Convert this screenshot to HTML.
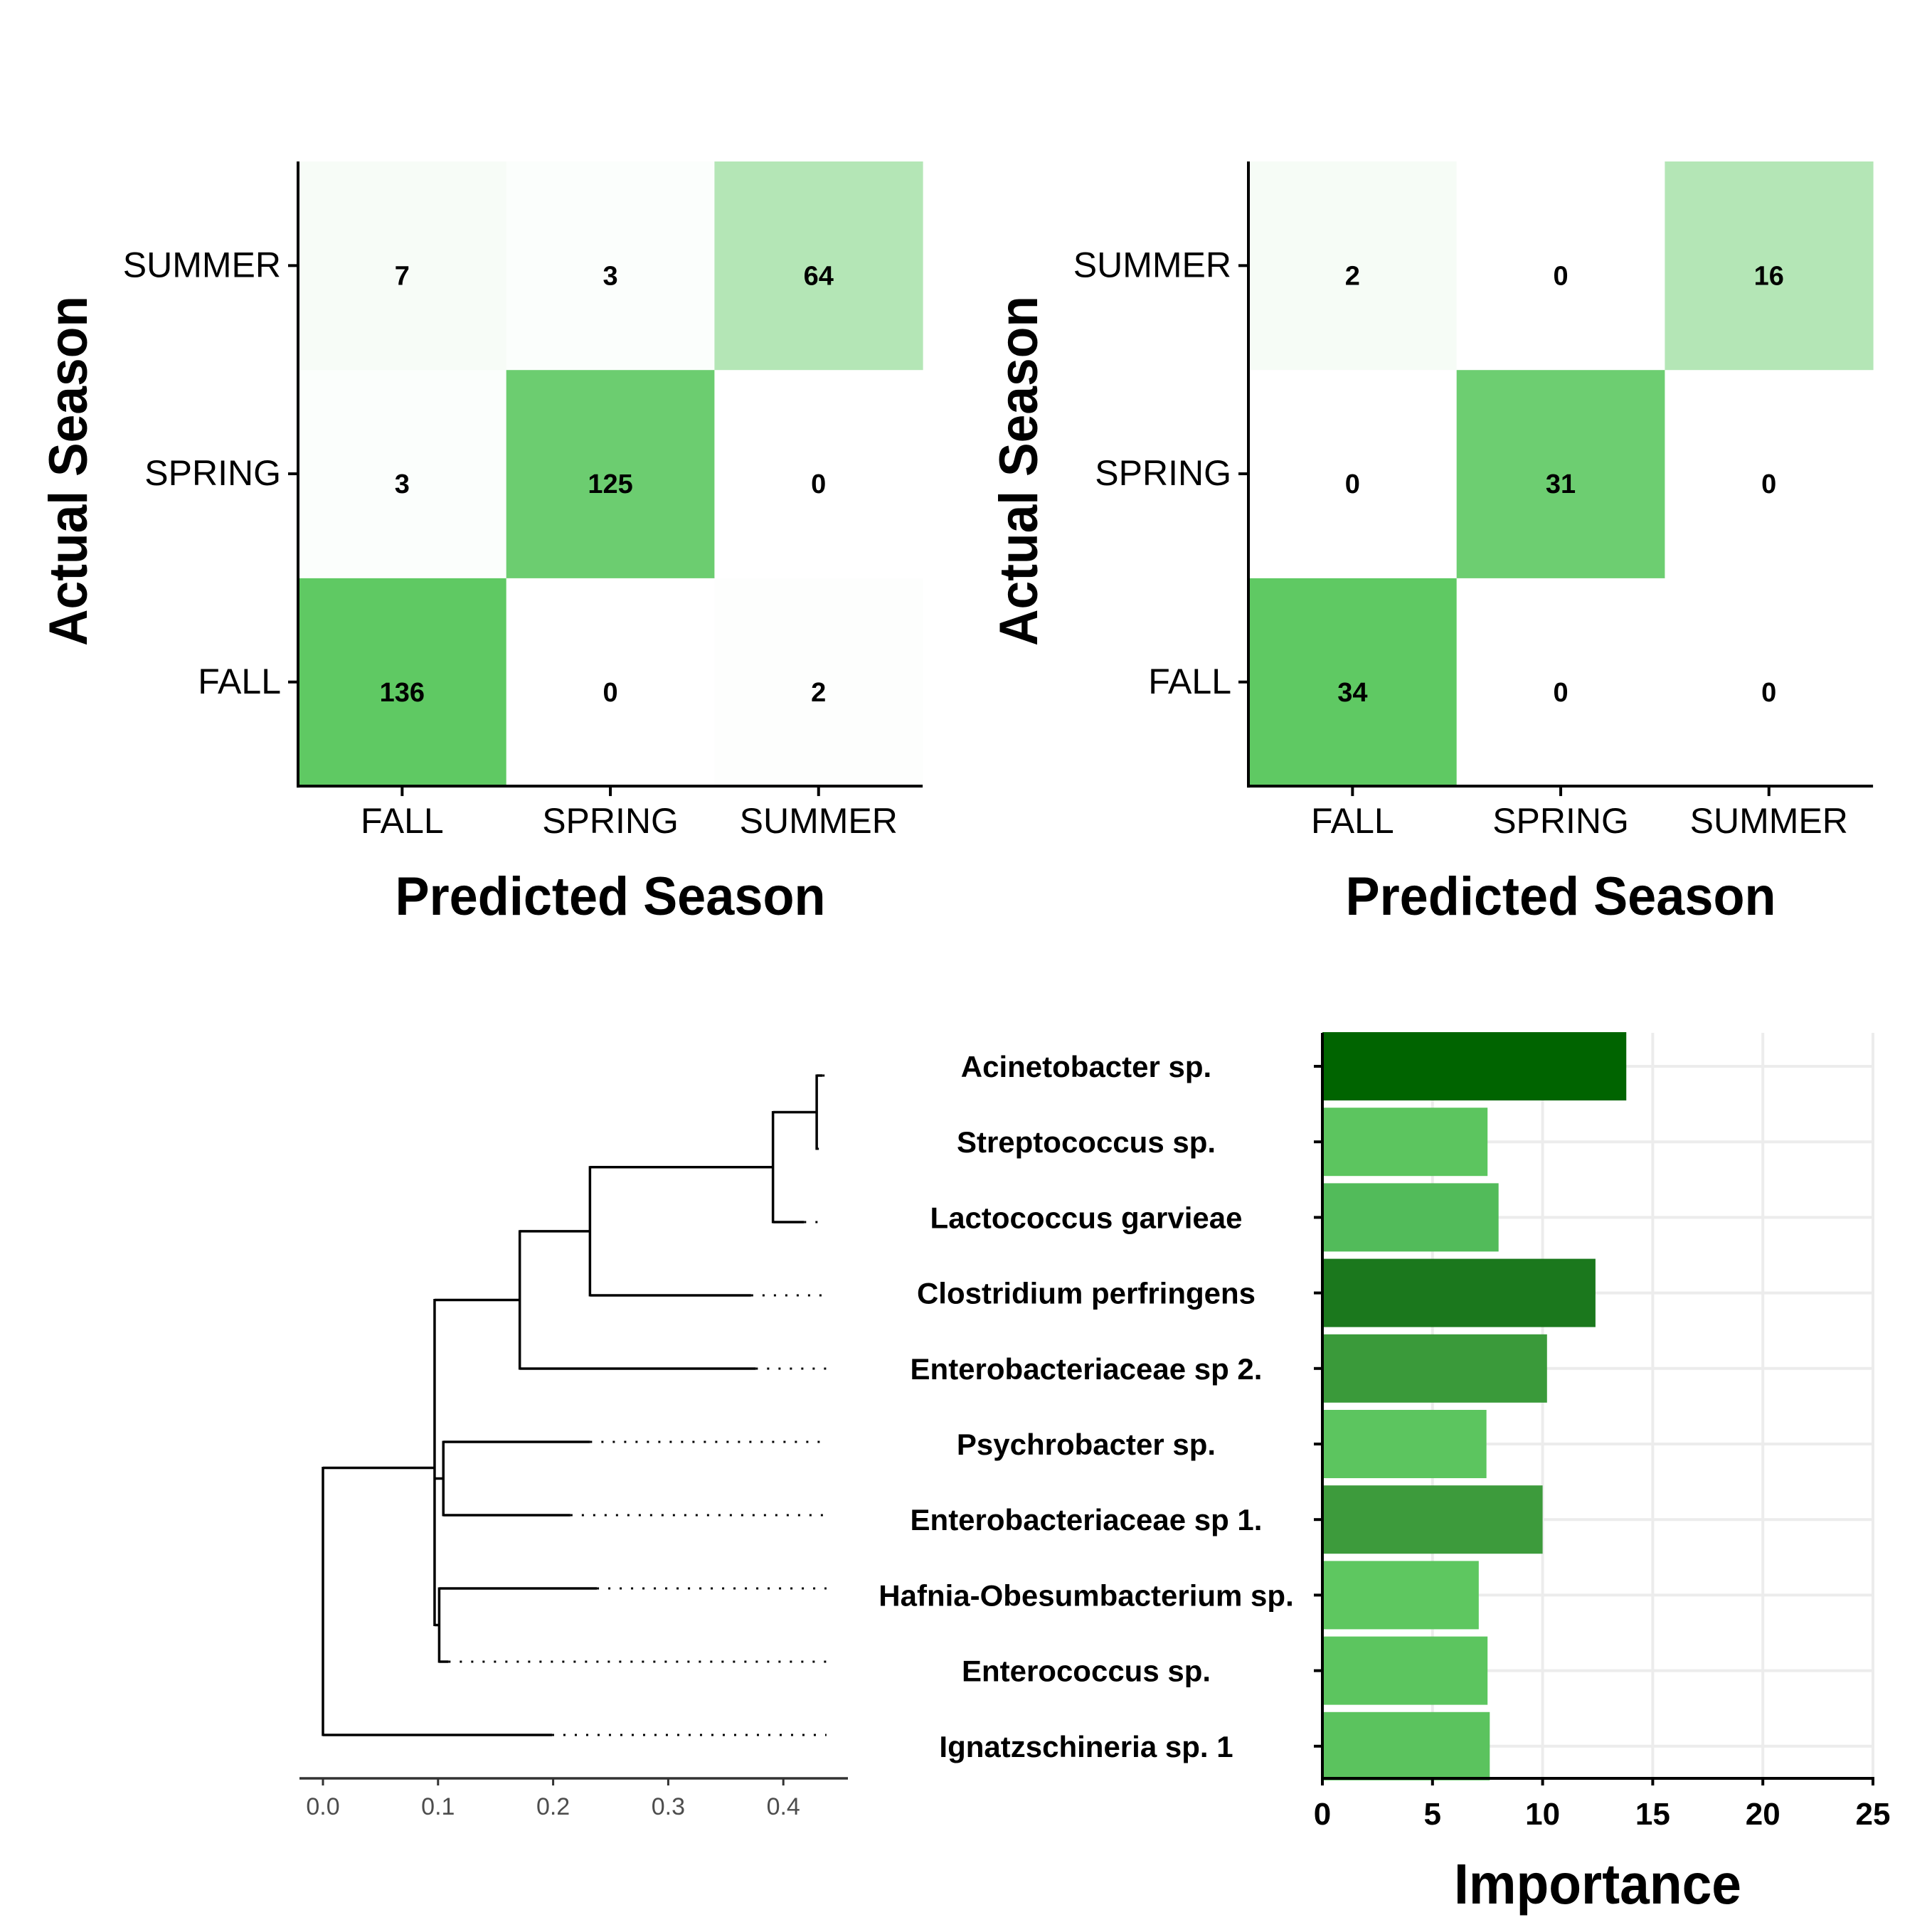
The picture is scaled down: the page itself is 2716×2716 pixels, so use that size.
<!DOCTYPE html>
<html><head><meta charset="utf-8"><style>
html,body{margin:0;padding:0;background:#fff}
svg{display:block;font-family:"Liberation Sans",sans-serif}
</style></head><body>
<svg id="fig" width="2716" height="2716" viewBox="0 0 2716 2716" xmlns="http://www.w3.org/2000/svg"></svg>
<script>
const seasons = ["FALL","SPRING","SUMMER"];
// rows: actual FALL, SPRING, SUMMER ; cols: predicted FALL, SPRING, SUMMER
const cmLeft = [[136,0,2],[3,125,0],[7,3,64]];
const cmRight = [[34,0,0],[0,31,0],[2,0,16]];

const species = ["Acinetobacter sp.","Streptococcus sp.","Lactococcus garvieae","Clostridium perfringens","Enterobacteriaceae sp 2.","Psychrobacter sp.","Enterobacteriaceae sp 1.","Hafnia-Obesumbacterium sp.","Enterococcus sp.","Ignatzschineria sp. 1"];
const importance = [13.8,7.5,8.0,12.4,10.2,7.45,10.0,7.1,7.5,7.6];
const barColors = ["#006400","#5cc55f","#52bb5a","#1b781d","#3a9a3a","#5cc55f","#3d9b3c","#5ec760","#5cc55f","#5bc35e"];
const impTicks = [0,5,10,15,20,25];

// dendrogram: leaf tip heights (same order as species) and internal nodes [height, ...children]
const leafHeights = [0.434,0.429,0.418,0.372,0.376,0.232,0.215,0.238,0.109,0.199];
const treeNodes = {
  G:[0.429,0,1], F:[0.391,"G",2], E:[0.232,"F",3], B:[0.171,"E",4],
  C:[0.1046,5,6], D:[0.101,7,8], A:[0.097,"B","C","D"], R:[0.0,"A",9]
};
const dendTicks = [0.0,0.1,0.2,0.3,0.4];

const NS="http://www.w3.org/2000/svg";
const svg=document.getElementById('fig');
function el(tag,attrs,parent,text){const e=document.createElementNS(NS,tag);for(const k in attrs)e.setAttribute(k,attrs[k]);if(text!==undefined)e.textContent=text;(parent||svg).appendChild(e);return e;}

function cmColor(t){const r=Math.round(255-t*(255-95)),g=Math.round(255-t*(255-201)),b=Math.round(255-t*(255-99));return `rgb(${r},${g},${b})`;}

function drawCM(data,x0,name){
  const g=el('g',{});
  
  
  const y0=227,cell=292.7,n=3;
  const mx=Math.max(...data.flat());
  for(let r=0;r<n;r++)for(let c=0;c<n;c++){
    const v=data[r][c];
    const x=x0+c*cell,y=y0+(n-1-r)*cell;
    const rc=el('rect',{x:x,y:y,width:cell+0.5,height:cell+0.5,fill:cmColor(v/mx)},g);
    
    
    const t=el('text',{x:x+cell/2,y:y+cell/2+27,'text-anchor':'middle','font-size':38,'font-weight':'bold',fill:'#000'},g,String(v));
    
    
  }
  const yb=y0+n*cell;
  el('line',{x1:x0,y1:y0,x2:x0,y2:yb+2,stroke:'#000','stroke-width':4},g);
  el('line',{x1:x0-2,y1:yb,x2:x0+n*cell,y2:yb,stroke:'#000','stroke-width':4},g);
  for(let i=0;i<n;i++){
    const yc=y0+(n-1-i)*cell+cell/2;
    el('line',{x1:x0-14,y1:yc,x2:x0,y2:yc,stroke:'#000','stroke-width':4},g);
    const yl=el('text',{x:x0-24,y:yc+16,'text-anchor':'end','font-size':50,fill:'#000'},g,seasons[i]);
    
    
    const xc=x0+i*cell+cell/2;
    el('line',{x1:xc,y1:yb,x2:xc,y2:yb+14,stroke:'#000','stroke-width':4},g);
    const xl=el('text',{x:xc,y:yb+66,'text-anchor':'middle','font-size':50,fill:'#000'},g,seasons[i]);
    
    
  }
  const xt=el('text',{x:x0+n*cell/2,y:1286,'text-anchor':'middle','font-size':76,'font-weight':'bold',fill:'#000',textLength:605,lengthAdjust:'spacingAndGlyphs'},g,'Predicted Season');
  
  
  const ax=x0-325;
  const yc0=y0+n*cell/2-4;
  const yt=el('text',{x:ax+28,y:yc0,'text-anchor':'middle','font-size':76,'font-weight':'bold',fill:'#000',textLength:492,lengthAdjust:'spacingAndGlyphs',transform:`rotate(-90 ${ax+28} ${yc0})`},g,'Actual Season');
  
  
}
drawCM(cmLeft,419,'confusion-matrix-train');
drawCM(cmRight,1755,'confusion-matrix-test');

// Dendrogram
const dg=el('g',{});


const dx0=454, dPerUnit=1618;
const dRowTop=1512, dRowStep=103;
function dRowY(i){return dRowTop+i*dRowStep;}
function dX(v){return dx0+v*dPerUnit;}
const tipX=dX(0.4375);
function kids(k){return treeNodes[k].slice(1);}
function nodeY(k){
  if(typeof k==='number')return dRowY(k);
  const ys=kids(k).map(nodeY);
  return ys.reduce((a,b)=>a+b,0)/ys.length;
}
function hOf(c){return (typeof c==='number')?leafHeights[c]:treeNodes[c][0];}
for(const k in treeNodes){
  const h=treeNodes[k][0];
  const ys=kids(k).map(nodeY);
  const y1=Math.min(...ys),y2=Math.max(...ys);
  el('line',{x1:dX(h),y1:y1-1.5,x2:dX(h),y2:y2+1.5,stroke:'#000','stroke-width':3.5},dg);
  for(const c of kids(k)){
    el('line',{x1:dX(h),y1:nodeY(c),x2:dX(hOf(c)),y2:nodeY(c),stroke:'#000','stroke-width':3.5},dg);
  }
}
for(let i=0;i<leafHeights.length;i++){
  const d=el('line',{x1:dX(leafHeights[i]),y1:dRowY(i),x2:tipX,y2:dRowY(i),stroke:'#000','stroke-width':3,'stroke-dasharray':'3 13'},dg);
  
  
}
el('line',{x1:421,y1:2500,x2:1192,y2:2500,stroke:'#333','stroke-width':3.5},dg);
for(const t of dendTicks){
  el('line',{x1:dX(t),y1:2500,x2:dX(t),y2:2510,stroke:'#333','stroke-width':3},dg);
  const tl=el('text',{x:dX(t),y:2551,'text-anchor':'middle','font-size':34,fill:'#4d4d4d'},dg,t.toFixed(1));
  
  
}

// Importance bars
const bg=el('g',{});


const rowTop=1499, rowStep=106.2;
function rowY(i){return rowTop+i*rowStep;}
const bx0=1859, bx25=2633, bPerUnit=(bx25-bx0)/25, bTop=1452, bBot=2500;
function bX(v){return bx0+v*bPerUnit;}
for(const t of impTicks){
  el('line',{x1:bX(t),y1:bTop,x2:bX(t),y2:bBot,stroke:'#ececec','stroke-width':4},bg);
}
for(let i=0;i<species.length;i++){
  el('line',{x1:bx0,y1:rowY(i),x2:bx25,y2:rowY(i),stroke:'#ececec','stroke-width':4},bg);
}
for(let i=0;i<species.length;i++){
  const r=el('rect',{x:bx0,y:rowY(i)-48,width:bX(importance[i])-bx0,height:96,fill:barColors[i]},bg);
  
  
  el('line',{x1:bx0-12,y1:rowY(i),x2:bx0,y2:rowY(i),stroke:'#000','stroke-width':4},bg);
  const l=el('text',{x:1527,y:rowY(i)+15,'text-anchor':'middle','font-size':42,'font-weight':'bold',fill:'#000'},bg,species[i]);
  
  
}
el('line',{x1:bx0,y1:bTop,x2:bx0,y2:bBot+2,stroke:'#000','stroke-width':4},bg);
el('line',{x1:bx0-2,y1:bBot,x2:bx25+2,y2:bBot,stroke:'#000','stroke-width':4},bg);
for(const t of impTicks){
  el('line',{x1:bX(t),y1:bBot,x2:bX(t),y2:bBot+10,stroke:'#000','stroke-width':4},bg);
  const tl=el('text',{x:bX(t),y:2565,'text-anchor':'middle','font-size':44,'font-weight':'bold',fill:'#000'},bg,String(t));
  
  
}
const it=el('text',{x:2246,y:2676,'text-anchor':'middle','font-size':80,'font-weight':'bold',fill:'#000',textLength:404,lengthAdjust:'spacingAndGlyphs'},bg,'Importance');


</script>
</body></html>
